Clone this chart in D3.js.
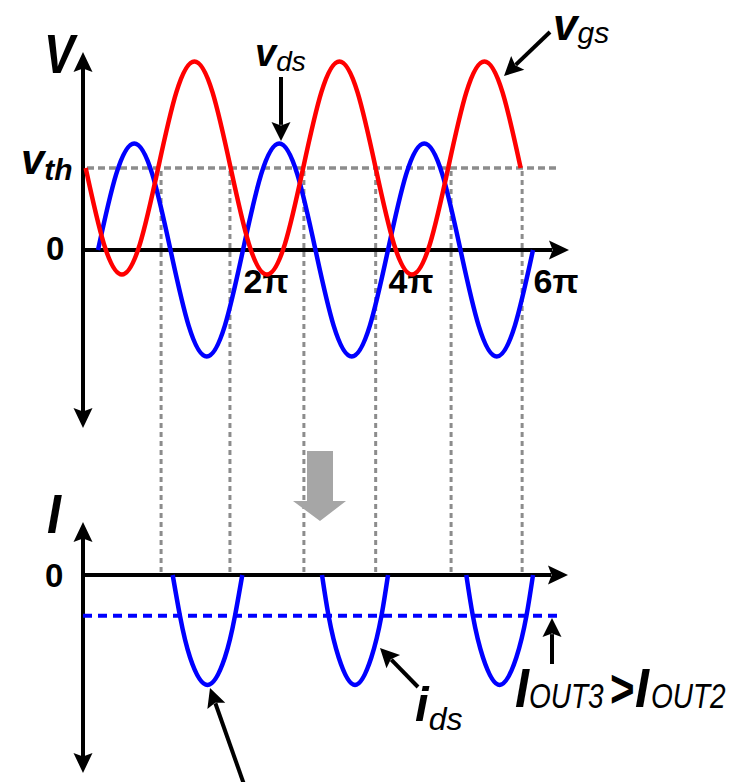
<!DOCTYPE html>
<html>
<head>
<meta charset="utf-8">
<script src="https://cdn.jsdelivr.net/npm/d3@7"></script>
<style>
  html, body { margin: 0; padding: 0; background: #fff; }
  svg { display: block; }
  .lbl { font-family: 'Liberation Sans', Arial, sans-serif; }
  .tick-label { font-family: 'Liberation Sans', Arial, sans-serif; font-weight: bold; }
</style>
</head>
<body>
<svg id="chart" width="731" height="782"></svg>
<script>
// Phase is expressed in multiples of π.
// Drain-source voltage v_ds (normalised to its amplitude)
const vdsPhase = [0, 0.25, 0.5, 0.75, 1, 1.25, 1.5, 1.75, 2, 2.25, 2.5, 2.75, 3, 3.25, 3.5, 3.75, 4, 4.25, 4.5, 4.75, 5, 5.25, 5.5, 5.75, 6];
const vdsValue = [0, 0.71, 1, 0.71, 0, -0.71, -1, -0.71, 0, 0.71, 1, 0.71, 0, -0.71, -1, -0.71, 0, 0.71, 1, 0.71, 0, -0.71, -1, -0.71, 0];

// Gate-source voltage v_gs, swinging around the threshold v_th
const vgsPhase = [-0.17, 0.08, 0.33, 0.58, 0.83, 1.08, 1.33, 1.58, 1.83, 2.08, 2.33, 2.58, 2.83, 3.08, 3.33, 3.58, 3.83, 4.08, 4.33, 4.58, 4.83, 5.08, 5.33, 5.58, 5.83];
const vgsValue = [0.77, 0.06, -0.23, 0.06, 0.77, 1.48, 1.77, 1.48, 0.77, 0.06, -0.23, 0.06, 0.77, 1.48, 1.77, 1.48, 0.77, 0.06, -0.23, 0.06, 0.77, 1.48, 1.77, 1.48, 0.77];

const vth = 0.77;

// Drain current i_ds conduction lobes (normalised to the peak current)
const idsLobePhase = [
  [1.03, 1.13, 1.27, 1.51, 1.75, 1.89, 1.99],
  [3.09, 3.18, 3.32, 3.545, 3.77, 3.91, 4.00],
  [5.08, 5.17, 5.31, 5.54, 5.77, 5.91, 6.00]
];
const idsLobeValue = [0, -0.37, -0.75, -1, -0.75, -0.37, 0];

// Average output current level
const ioutLevel = -0.37;

// Phases where v_gs crosses v_th (conduction boundaries)
const guidePhase = [0.87, 1.82, 2.84, 3.83, 4.87, 5.85];

// x tick labels
const xTickPhase = [2, 4, 6];
const xTickLabel = ["2π", "4π", "6π"];

const svg = d3.select("#chart");

const x = d3.scaleLinear().domain([0, 6]).range([98, 533]);
const yV = d3.scaleLinear().domain([0, 1]).range([250, 143.5]);
const yI = d3.scaleLinear().domain([0, -1]).range([575, 685]);

const axisX = 83;          // vertical axes position
const RED = "#ff0000", BLUE = "#0000ff", GREY = "#8c8c8c";

// arrowhead helper: filled head with a slightly notched back
function arrowHead(g, tx, ty, angle, len, wid, color) {
  const ca = Math.cos(angle), sa = Math.sin(angle);
  const p = (u, v) => [tx - u * ca - v * -sa, ty - u * sa - v * ca];
  const pts = [p(0, 0), p(len, wid / 2), p(len * 0.82, 0), p(len, -wid / 2)];
  g.append("path").attr("d", "M" + pts.map(q => q.join(",")).join("L") + "Z").attr("fill", color);
}
function arrow(g, x1, y1, x2, y2, opts = {}) {
  const len = opts.len || 19, wid = opts.wid || 19, w = opts.w || 4, color = opts.color || "#000";
  const a = Math.atan2(y2 - y1, x2 - x1);
  const ex = x2 - Math.cos(a) * len * 0.85, ey = y2 - Math.sin(a) * len * 0.85;
  g.append("line").attr("x1", x1).attr("y1", y1).attr("x2", ex).attr("y2", ey)
    .attr("stroke", color).attr("stroke-width", w);
  arrowHead(g, x2, y2, a, len, wid, color);
}

// ---------- guides ----------
const guides = svg.append("g");
guides.append("line")
  .attr("x1", 87).attr("x2", 556)
  .attr("y1", yV(vth)).attr("y2", yV(vth))
  .attr("stroke", GREY).attr("stroke-width", 3.5).attr("stroke-dasharray", "7,4");
guides.selectAll("line.vguide").data(guidePhase).join("line")
  .attr("class", "vguide")
  .attr("x1", d => x(d)).attr("x2", d => x(d))
  .attr("y1", yV(vth) + 3).attr("y2", yI(0))
  .attr("stroke", GREY).attr("stroke-width", 3).attr("stroke-dasharray", "5,4");

// ---------- axes ----------
const axes = svg.append("g");
axes.append("line").attr("x1", axisX).attr("x2", axisX).attr("y1", 68).attr("y2", 412)
  .attr("stroke", "#000").attr("stroke-width", 4);
arrowHead(axes, axisX, 52, -Math.PI / 2, 20, 19, "#000");
arrowHead(axes, axisX, 428, Math.PI / 2, 20, 19, "#000");
axes.append("line").attr("x1", axisX).attr("x2", 552).attr("y1", yV(0)).attr("y2", yV(0))
  .attr("stroke", "#000").attr("stroke-width", 4);
arrowHead(axes, 569, yV(0), 0, 20, 19, "#000");

axes.append("line").attr("x1", axisX).attr("x2", axisX).attr("y1", 538).attr("y2", 757)
  .attr("stroke", "#000").attr("stroke-width", 4);
arrowHead(axes, axisX, 522, -Math.PI / 2, 20, 19, "#000");
arrowHead(axes, axisX, 773, Math.PI / 2, 20, 19, "#000");
axes.append("line").attr("x1", axisX).attr("x2", 551).attr("y1", yI(0)).attr("y2", yI(0))
  .attr("stroke", "#000").attr("stroke-width", 4);
arrowHead(axes, 568, yI(0), 0, 20, 19, "#000");

// tick labels via a d3 axis (no tick marks, no domain line)
const xAxis = d3.axisBottom(x).tickValues(xTickPhase).tickSize(0).tickPadding(0)
  .tickFormat((d, i) => xTickLabel[i]);
const xAxisG = svg.append("g").attr("transform", `translate(0,${yV(0)})`).call(xAxis);
xAxisG.select(".domain").remove();
xAxisG.selectAll("text")
  .attr("class", "tick-label")
  .attr("text-anchor", "start")
  .attr("dy", null).attr("y", 43)
  .attr("font-size", 34).attr("fill", "#000");

// ---------- curves ----------
const lineV = d3.line().x(d => x(d[0])).y(d => yV(d[1])).curve(d3.curveNatural);
const lineI = d3.line().x(d => x(d[0])).y(d => yI(d[1])).curve(d3.curveNatural);

svg.append("path")
  .attr("d", lineV(vdsPhase.map((p, i) => [p, vdsValue[i]])))
  .attr("fill", "none").attr("stroke", BLUE).attr("stroke-width", 4.5);
svg.append("path")
  .attr("d", lineV(vgsPhase.map((p, i) => [p, vgsValue[i]])))
  .attr("fill", "none").attr("stroke", RED).attr("stroke-width", 4.5);

svg.append("g").selectAll("path").data(idsLobePhase).join("path")
  .attr("d", ph => lineI(ph.map((p, i) => [p, idsLobeValue[i]])))
  .attr("fill", "none").attr("stroke", BLUE).attr("stroke-width", 4.5);

svg.append("line")
  .attr("x1", axisX).attr("x2", 558)
  .attr("y1", yI(ioutLevel)).attr("y2", yI(ioutLevel))
  .attr("stroke", BLUE).attr("stroke-width", 4).attr("stroke-dasharray", "9,6");

// ---------- grey transition arrow ----------
svg.append("path")
  .attr("d", "M307,451 L333,451 L333,501 L346,501 L320,521 L293,501 L307,501 Z")
  .attr("fill", "#a6a6a6");

// ---------- labels ----------
// parts: text runs with size/weight/baseline shift; sx condenses horizontally
function rich(parts, xPos, yPos, sx = 1) {
  const g = svg.append("g").attr("transform", `translate(${xPos},${yPos}) scale(${sx},1)`);
  const t = g.append("text").attr("class", "lbl").attr("x", 0).attr("y", 0).attr("fill", "#000");
  parts.forEach(p => {
    const s = t.append("tspan").text(p.text)
      .attr("font-size", p.size)
      .attr("font-weight", p.bold ? "bold" : "normal")
      .attr("font-style", p.italic === false ? "normal" : "italic");
    if (p.dy) s.attr("dy", p.dy);
    if (p.dx) s.attr("dx", p.dx);
  });
  return g;
}

rich([{ text: "V", size: 56, bold: true }], 44, 73, 0.82);
rich([{ text: "I", size: 56, bold: true }], 47, 533, 0.9);
rich([{ text: "v", size: 42, bold: true }, { text: "th", size: 30, bold: true, dy: 6 }], 21, 174);
svg.append("text").attr("class", "tick-label").attr("x", 46).attr("y", 260).attr("font-size", 33).text("0");
svg.append("text").attr("class", "tick-label").attr("x", 45).attr("y", 587).attr("font-size", 33).text("0");

rich([{ text: "v", size: 38, bold: true }, { text: "ds", size: 28, dy: 5 }], 255, 66);
rich([{ text: "v", size: 44, bold: true }, { text: "gs", size: 30, dy: 3 }], 553, 40);
rich([{ text: "i", size: 49, bold: true }, { text: "ds", size: 32, dy: 9 }], 415, 721);

// I_OUT3 > I_OUT2
rich([{ text: "I", size: 56, bold: true }], 515, 707, 0.9);
rich([{ text: "OUT3", size: 35 }], 529, 708, 0.8);
rich([{ text: ">", size: 54, bold: true, italic: false }], 610, 707, 0.78);
rich([{ text: "I", size: 56, bold: true }], 635, 707, 0.9);
rich([{ text: "OUT2", size: 35 }], 651, 708, 0.8);

// ---------- annotation arrows ----------
const ann = svg.append("g");
arrow(ann, 281, 77, 281, 141);
arrow(ann, 550, 32, 504, 76);
arrow(ann, 418, 687, 380, 648);
arrow(ann, 552, 664, 552, 618);
arrow(ann, 246, 790, 210, 688);
</script>
</body>
</html>
